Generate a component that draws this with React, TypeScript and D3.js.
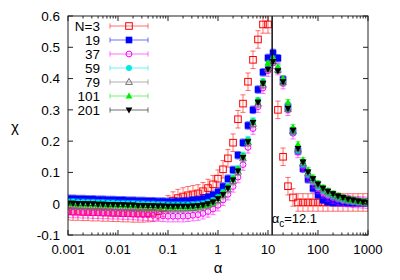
import React from "react";
import * as d3 from "d3";

const alphas = [
  0.001, 0.00126, 0.00158, 0.002, 0.00251, 0.00316, 0.00398, 0.00501, 0.00631, 0.00794,
  0.01, 0.0126, 0.0158, 0.02, 0.0251, 0.0316, 0.0398, 0.0501, 0.0631, 0.0794,
  0.1, 0.126, 0.158, 0.2, 0.251, 0.316, 0.398, 0.501, 0.631, 0.794,
  1, 1.26, 1.58, 2, 2.51, 3.16, 3.98, 5.01, 6.31, 7.94,
  10, 12.6, 15.8, 20, 25.1, 31.6, 39.8, 50.1, 63.1, 79.4,
  100, 126, 158, 200, 251, 316, 398, 501, 631, 794,
  1000,
];

const chiN3 = [
  -0.024, -0.025, -0.025, -0.026, -0.026, -0.027, -0.027, -0.028, -0.028, -0.029,
  -0.029, -0.03, -0.03, -0.031, -0.031, -0.031, -0.03, -0.029, -0.024, -0.014,
  -0.002, 0.01, 0.018, 0.023, 0.027, 0.03, 0.033, 0.04, 0.05, 0.062,
  0.08, 0.11, 0.145, 0.195, 0.27, 0.32, 0.39, 0.46, 0.525, 0.573,
  0.573, null, 0.3, 0.15, 0.056, 0.02, 0.004, 0.004, 0.004, 0.004,
  0.004, 0.004, 0.004, 0.004, 0.004, 0.004, 0.004, 0.004, 0.004, 0.004,
  0.004,
];
const chiN19 = [
  0.016, 0.016, 0.015, 0.015, 0.014, 0.014, 0.013, 0.013, 0.012, 0.012,
  0.011, 0.011, 0.01, 0.01, 0.009, 0.009, 0.008, 0.008, 0.007, 0.007,
  0.006, 0.006, 0.007, 0.008, 0.009, 0.011, 0.013, 0.016, 0.021, 0.028,
  0.038, 0.055, 0.08, 0.108, 0.155, 0.195, 0.25, 0.3, 0.365, 0.42,
  0.466, 0.482, 0.465, 0.397, 0.31, 0.232, 0.168, 0.112, 0.078, 0.049,
  0.028, 0.012, 0.006, 0.004, 0.004, 0.004, 0.003, 0.003, 0.003, 0.003,
  0.003,
];
const chiN37 = [
  -0.026, -0.027, -0.027, -0.028, -0.028, -0.029, -0.029, -0.03, -0.03, -0.031,
  -0.031, -0.032, -0.032, -0.033, -0.034, -0.035, -0.036, -0.037, -0.038, -0.039,
  -0.04, -0.04, -0.04, -0.04, -0.039, -0.037, -0.035, -0.031, -0.025, -0.017,
  -0.005, 0.012, 0.03, 0.055, 0.085, 0.125, 0.18, 0.24, 0.31, 0.37,
  0.425, 0.45, 0.43, 0.385, 0.3, 0.225, 0.165, 0.12, 0.09, 0.068,
  0.05, 0.036, 0.026, 0.019, 0.014, 0.01, 0.008, 0.006, 0.005, 0.004,
  0.003,
];
const chiN59 = [
  0.006, 0.006, 0.005, 0.005, 0.004, 0.004, 0.003, 0.003, 0.002, 0.002,
  0.001, 0.001, 0.0, 0.0, -0.001, -0.001, -0.002, -0.002, -0.003, -0.003,
  -0.004, -0.004, -0.004, -0.004, -0.004, -0.003, -0.002, 0.0, 0.004, 0.01,
  0.02, 0.036, 0.056, 0.082, 0.112, 0.155, 0.205, 0.265, 0.33, 0.39,
  0.44, 0.46, 0.43, 0.39, 0.305, 0.23, 0.17, 0.126, 0.094, 0.072,
  0.055, 0.042, 0.032, 0.024, 0.018, 0.013, 0.01, 0.008, 0.006, 0.005,
  0.004,
];
const chiN79 = [
  -0.006, -0.006, -0.007, -0.007, -0.008, -0.008, -0.009, -0.009, -0.01, -0.01,
  -0.011, -0.011, -0.012, -0.012, -0.013, -0.013, -0.014, -0.014, -0.015, -0.015,
  -0.016, -0.016, -0.016, -0.016, -0.015, -0.014, -0.012, -0.009, -0.004, 0.003,
  0.012, 0.027, 0.046, 0.072, 0.102, 0.145, 0.195, 0.255, 0.32, 0.38,
  0.432, 0.455, 0.428, 0.388, 0.302, 0.232, 0.174, 0.13, 0.098, 0.076,
  0.059, 0.046, 0.036, 0.028, 0.022, 0.017, 0.013, 0.01, 0.008, 0.006,
  0.004,
];
const chiN101 = [
  0.0, 0.0, -0.001, -0.001, -0.002, -0.002, -0.003, -0.003, -0.004, -0.004,
  -0.005, -0.005, -0.006, -0.006, -0.007, -0.007, -0.008, -0.008, -0.009, -0.009,
  -0.01, -0.01, -0.01, -0.01, -0.01, -0.009, -0.008, -0.006, -0.002, 0.004,
  0.018, 0.033, 0.053, 0.08, 0.11, 0.152, 0.2, 0.262, 0.33, 0.39,
  0.45, 0.465, 0.437, 0.4, 0.325, 0.245, 0.19, 0.14, 0.108, 0.084,
  0.066, 0.052, 0.042, 0.033, 0.026, 0.02, 0.015, 0.012, 0.009, 0.007,
  0.005,
];
const chiN201 = [
  0.002, 0.002, 0.001, 0.001, 0.0, 0.0, -0.001, -0.001, -0.002, -0.002,
  -0.003, -0.003, -0.004, -0.004, -0.005, -0.005, -0.006, -0.006, -0.007, -0.007,
  -0.008, -0.008, -0.008, -0.008, -0.008, -0.007, -0.006, -0.004, 0.0, 0.006,
  0.016, 0.03, 0.05, 0.076, 0.105, 0.148, 0.198, 0.26, 0.325, 0.385,
  0.43, 0.455, 0.425, 0.39, 0.305, 0.235, 0.177, 0.134, 0.102, 0.08,
  0.063, 0.05, 0.04, 0.032, 0.025, 0.02, 0.015, 0.012, 0.009, 0.006,
  0.004,
];

const seriesLabels = ["N=3", "19", "37", "59", "79", "101", "201"];
const seriesValues = [chiN3, chiN19, chiN37, chiN59, chiN79, chiN101, chiN201];
const seriesErrors = [0.028, 0.012, 0.018, 0.01, 0.012, 0.008, 0.006];
const seriesColors = ["#ff0000", "#0000ff", "#ff00ff", "#00e8e8", "#707070", "#00ee00", "#000000"];
const seriesShapes = ["sqOpen", "sqFill", "circOpen", "circFill", "triOpen", "triFill", "triDown"];

const xTickValues = [0.001, 0.01, 0.1, 1, 10, 100, 1000];
const xTickLabels = ["0.001", "0.01", "0.1", "1", "10", "100", "1000"];
const yTickValues = [-0.1, 0, 0.1, 0.2, 0.3, 0.4, 0.5, 0.6];
const yTickLabels = ["-0.1", "0", "0.1", "0.2", "0.3", "0.4", "0.5", "0.6"];
const alphaC = 12.1;

const W = 400;
const H = 280;
const M = { left: 68, right: 368, top: 16, bottom: 235 };
const FONT = "'Liberation Sans', Arial, Helvetica, sans-serif";

function Marker({ shape, cx, cy, color }: { shape: string; cx: number; cy: number; color: string }) {
  const s = 3.3;
  switch (shape) {
    case "sqOpen":
      return <rect x={cx - s} y={cy - s} width={2 * s} height={2 * s} fill="none" stroke={color} strokeWidth={1} />;
    case "sqFill":
      return <rect x={cx - s} y={cy - s} width={2 * s} height={2 * s} fill={color} />;
    case "circOpen":
      return <circle cx={cx} cy={cy} r={2.9} fill="none" stroke={color} strokeWidth={1} />;
    case "circFill":
      return <circle cx={cx} cy={cy} r={3} fill={color} />;
    case "triOpen":
      return (
        <path d={`M${cx},${cy - 3.6}L${cx + 3.4},${cy + 2.4}L${cx - 3.4},${cy + 2.4}Z`} fill="none" stroke={color} strokeWidth={1} />
      );
    case "triFill":
      return <path d={`M${cx},${cy - 3.6}L${cx + 3.4},${cy + 2.4}L${cx - 3.4},${cy + 2.4}Z`} fill={color} />;
    case "triDown":
      return <path d={`M${cx},${cy + 3.6}L${cx + 3.4},${cy - 2.4}L${cx - 3.4},${cy - 2.4}Z`} fill={color} />;
    default:
      return null;
  }
}

export default function App() {
  const x = d3.scaleLog().domain([0.001, 1000]).range([M.left, M.right]);
  const y = d3.scaleLinear().domain([-0.1, 0.6]).range([M.bottom, M.top]);

  const minorTicks: number[] = [];
  for (let e = -3; e < 3; e++) {
    for (let m = 2; m <= 9; m++) minorTicks.push(m * Math.pow(10, e));
  }

  const cap = 2.6;

  return (
    <svg
      width={W}
      height={H}
      style={{ position: "fixed", left: 0, top: 0, background: "#fff" }}
      fontFamily={FONT}
    >
      <defs>
        <clipPath id="plotClip">
          <rect x={M.left} y={M.top} width={M.right - M.left} height={M.bottom - M.top} />
        </clipPath>
      </defs>
      <rect width={W} height={H} fill="#fff" />

      {/* data */}
      <g clipPath="url(#plotClip)">
        {seriesValues.map((vals, si) => {
          const col = seriesColors[si];
          const err = seriesErrors[si];
          return (
            <g key={si}>
              {vals.map((v, i) => {
                if (v === null) return null;
                const cx = x(alphas[i]);
                const y1 = y(v - err);
                const y2 = y(v + err);
                return (
                  <g key={i} stroke={col} strokeWidth={0.8} strokeOpacity={0.7}>
                    <line x1={cx} x2={cx} y1={y1} y2={y2} />
                    <line x1={cx - cap} x2={cx + cap} y1={y1} y2={y1} />
                    <line x1={cx - cap} x2={cx + cap} y1={y2} y2={y2} />
                  </g>
                );
              })}
              {vals.map((v, i) =>
                v === null ? null : <Marker key={"m" + i} shape={seriesShapes[si]} cx={x(alphas[i])} cy={y(v)} color={col} />
              )}
            </g>
          );
        })}
      </g>

      {/* critical line */}
      <line x1={x(alphaC)} x2={x(alphaC)} y1={M.top} y2={M.bottom} stroke="#000" strokeWidth={1.4} />
      <text x={x(alphaC) - 0.5} y={223} fontSize={13} fill="#000">
        <tspan>α</tspan>
        <tspan dy={4} fontSize={10}>c</tspan>
        <tspan dy={-4}>=12.1</tspan>
      </text>

      {/* frame */}
      <rect x={M.left} y={M.top} width={M.right - M.left} height={M.bottom - M.top} fill="none" stroke="#222" strokeWidth={1} />

      {/* x ticks */}
      {xTickValues.map((t, i) => (
        <g key={"xt" + i} stroke="#222" strokeWidth={1}>
          <line x1={x(t)} x2={x(t)} y1={M.bottom} y2={M.bottom - 5} />
          <line x1={x(t)} x2={x(t)} y1={M.top} y2={M.top + 5} />
        </g>
      ))}
      {minorTicks.map((t, i) => (
        <g key={"xm" + i} stroke="#222" strokeWidth={1}>
          <line x1={x(t)} x2={x(t)} y1={M.bottom} y2={M.bottom - 2.5} />
          <line x1={x(t)} x2={x(t)} y1={M.top} y2={M.top + 2.5} />
        </g>
      ))}
      {xTickValues.map((t, i) => (
        <text key={"xl" + i} x={x(t)} y={254} fontSize={13.2} textAnchor="middle" fill="#000">
          {xTickLabels[i]}
        </text>
      ))}

      {/* y ticks */}
      {yTickValues.map((t, i) => (
        <g key={"yt" + i}>
          <line x1={M.left} x2={M.left + 5} y1={y(t)} y2={y(t)} stroke="#222" />
          <line x1={M.right} x2={M.right - 5} y1={y(t)} y2={y(t)} stroke="#222" />
          <text x={M.left - 8} y={y(t)} dy="0.36em" fontSize={13.5} textAnchor="end" fill="#000">
            {yTickLabels[i]}
          </text>
        </g>
      ))}

      {/* axis titles */}
      <text x={15} y={127} dy="0.3em" fontSize={15} textAnchor="middle" fill="#000">χ</text>
      <text x={(M.left + M.right) / 2} y={273} fontSize={15} textAnchor="middle" fill="#000">α</text>

      {/* legend */}
      {seriesLabels.map((lab, i) => {
        const ly = 26 + i * 14;
        const col = seriesColors[i];
        return (
          <g key={"lg" + i}>
            <text x={100} y={ly} dy="0.36em" fontSize={13.5} textAnchor="end" fill="#000">
              {lab}
            </text>
            <g stroke={col} strokeWidth={0.8} strokeOpacity={0.7}>
              <line x1={110} x2={148} y1={ly} y2={ly} />
              <line x1={110} x2={110} y1={ly - 2.6} y2={ly + 2.6} />
              <line x1={148} x2={148} y1={ly - 2.6} y2={ly + 2.6} />
            </g>
            <Marker shape={seriesShapes[i]} cx={129} cy={ly} color={col} />
          </g>
        );
      })}
    </svg>
  );
}
